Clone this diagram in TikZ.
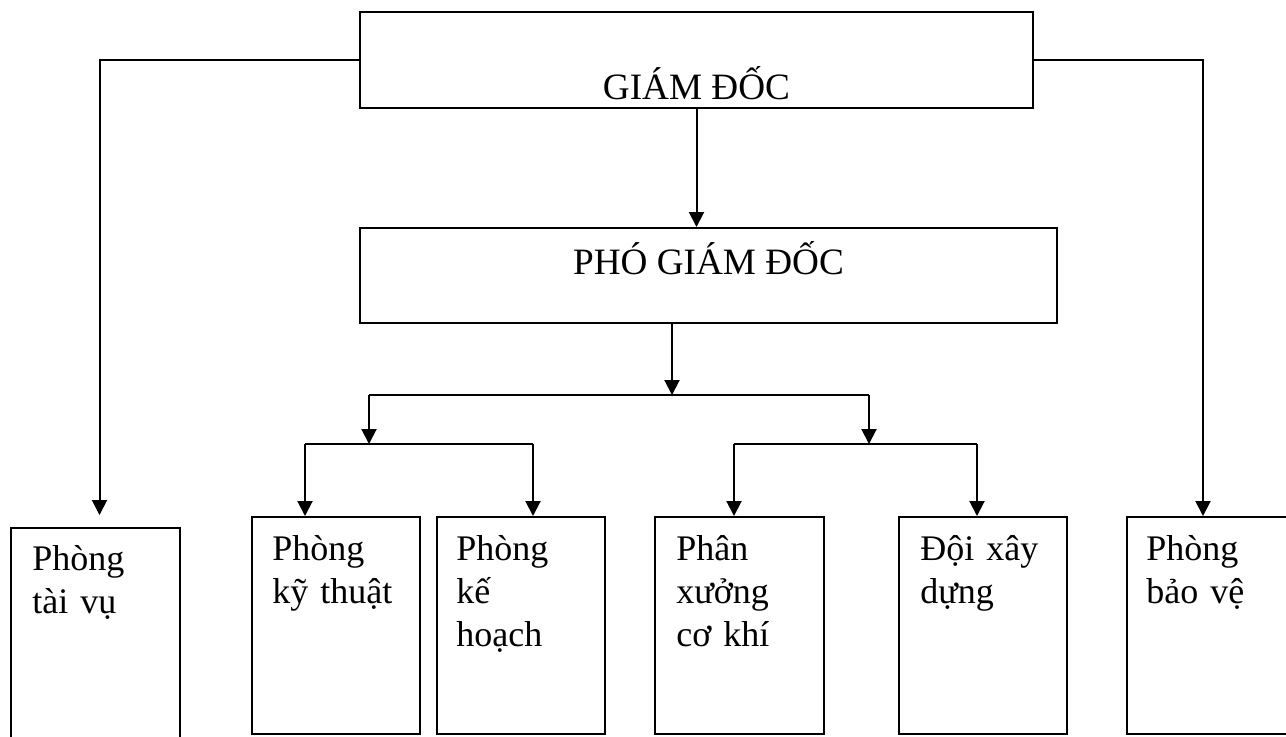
\documentclass[tikz,border=0pt]{standalone}
\usepackage{fontspec}
\setmainfont{Liberation Serif}
\usepackage{tikz}
\usetikzlibrary{arrows.meta, positioning}
\tikzstyle{cajagrande} = [draw, line width=1pt, inner xsep=0pt, inner ysep=0pt, font=\fontsize{18.6}{22}\selectfont]
\tikzstyle{cajapeq} = [draw, line width=1pt, inner sep=0pt, anchor=north west, minimum width=84pt, minimum height=108.5pt]
\tikzstyle{textocaja} = [anchor=base west, inner sep=0pt, text width=80pt, align=left, font=\fontsize{18}{21.5}\selectfont]
\tikzstyle{flecha} = [line width=1pt, -{Triangle[width=7.5pt,length=7.5pt]}]
\tikzstyle{linea} = [line width=1pt]

\begin{document}
\begin{tikzpicture}[x=0.5pt, y=-0.5pt]
	\useasboundingbox (0,0) rectangle (1286,736);
	\clip (0,0) rectangle (1286,736);
	% cargos
	\node[cajagrande, minimum width=336.5pt, text height=43.5pt, text depth=4.5pt] (gd) at (696.5,60) {GIÁM ĐỐC};
	\node[cajagrande, minimum width=348.5pt, text height=23pt, text depth=24.5pt] (pgd) at (708.5,275.5) {PHÓ GIÁM ĐỐC};
	% phong ban
	\node[cajapeq, minimum width=84.5pt, minimum height=107.5pt] (taivu) at (10,527) {};
	\node[cajapeq] (kythuat) at (251,516) {};
	\node[cajapeq] (kehoach) at (436,516) {};
	\node[cajapeq, minimum width=84.5pt] (phanxuong) at (654,516) {};
	\node[cajapeq] (doi) at (898,516) {};
	\node[cajapeq, minimum width=90pt] (baove) at (1126,516) {};
	\node[textocaja] (taivut) at ([xshift=11pt,yshift=-21.5pt]taivu.north west) {Phòng\\tài vụ};
	\node[textocaja] (kythuatt) at ([xshift=10.5pt,yshift=-22pt]kythuat.north west) {Phòng\\kỹ thuật};
	\node[textocaja] (kehoacht) at ([xshift=10pt,yshift=-22pt]kehoach.north west) {Phòng\\kế\\hoạch};
	\node[textocaja] (phanxuongt) at ([xshift=11pt,yshift=-22pt]phanxuong.north west) {Phân\\xưởng\\cơ khí};
	\node[textocaja] (doit) at ([xshift=11pt,yshift=-22pt]doi.north west) {Đội xây\\dựng};
	\node[textocaja] (baovet) at ([xshift=10pt,yshift=-22pt]baove.north west) {Phòng\\bảo vệ};
	% puntos de union
	\coordinate (ja) at (672,395);
	\coordinate (jl) at (369,395);
	\coordinate (jr) at (869,395);
	\coordinate (kt) at (305,444);
	\coordinate (kh) at (533,444);
	\coordinate (px) at (734,444);
	\coordinate (dx) at (977,444);
	% conectores
	\draw[flecha] (gd.west) -| ([xshift=2pt,yshift=6pt]taivu.north);
	\draw[flecha] (gd.east) -| ([xshift=38.5pt]baove.north west);
	\draw[flecha] (gd.south) -- (gd.south |- pgd.north);
	\draw[flecha] (ja |- pgd.south) -- (ja);
	\draw[linea] (jl) -- (jr);
	\draw[flecha] (jl) -- (jl |- kt);
	\draw[flecha] (jr) -- (jr |- px);
	\draw[linea] (kt) -- (kh);
	\draw[linea] (px) -- (dx);
	\draw[flecha] (kt) -- (kt |- kythuat.north);
	\draw[flecha] (kh) -- (kh |- kehoach.north);
	\draw[flecha] (px) -- (px |- phanxuong.north);
	\draw[flecha] (dx) -- (dx |- doi.north);
\end{tikzpicture}
\end{document}
